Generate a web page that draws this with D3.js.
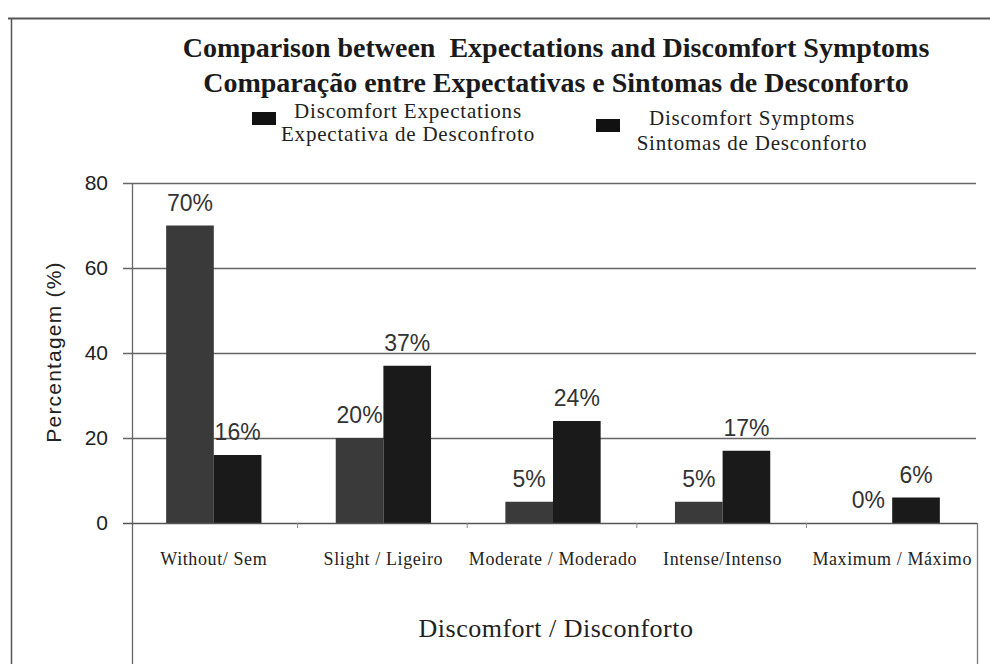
<!DOCTYPE html>
<html>
<head>
<meta charset="utf-8">
<script src="https://cdn.jsdelivr.net/npm/d3@7"></script>
<style>
  html, body { margin: 0; padding: 0; background: #fff; }
  svg { display: block; }
</style>
</head>
<body>
<svg id="chart" width="990" height="664"></svg>
<script>
const categories = ["Without/ Sem", "Slight / Ligeiro", "Moderate / Moderado", "Intense/Intenso", "Maximum / Máximo"];
const expectations = [70, 20, 5, 5, 0];
const symptoms = [16, 37, 24, 17, 6];
const seriesNames = [
  ["Discomfort Expectations", "Expectativa de Desconfroto"],
  ["Discomfort Symptoms", "Sintomas de Desconforto"]
];
const yTicks = [0, 20, 40, 60, 80];
const titleLines = ["Comparison between  Expectations and Discomfort Symptoms",
                    "Comparação entre Expectativas e Sintomas de Desconforto"];
const yTitle = "Percentagem (%)";
const xTitle = "Discomfort / Disconforto";

const svg = d3.select("#chart");
const serif = "'Liberation Serif', 'Times New Roman', serif";
const sans = "'Liberation Sans', Arial, sans-serif";
const colors = ["#3a3a3a", "#1a1a1a"];

// outer frame
svg.append("line").attr("x1", 8).attr("x2", 990).attr("y1", 18.5).attr("y2", 18.5)
  .attr("stroke", "#555").attr("stroke-width", 2);
svg.append("line").attr("x1", 11.5).attr("x2", 11.5).attr("y1", 18).attr("y2", 664)
  .attr("stroke", "#555").attr("stroke-width", 1.5);

const x0 = d3.scaleBand().domain(categories).range([129, 977]).paddingInner(0).paddingOuter(0);
const x1 = d3.scaleBand().domain([0, 1]).range([0, x0.bandwidth()]).paddingInner(0).paddingOuter(0.78);
const y = d3.scaleLinear().domain([0, 80]).range([523, 183]);

// gridlines
svg.append("g").selectAll("line").data(yTicks.filter(d => d > 0)).join("line")
  .attr("x1", 123).attr("x2", 976)
  .attr("y1", d => y(d) + 0.5).attr("y2", d => y(d) + 0.5)
  .attr("stroke", "#666").attr("stroke-width", 1.3);

// y-axis line (extends down to bottom)
svg.append("line").attr("x1", 132.5).attr("x2", 132.5).attr("y1", 183).attr("y2", 664)
  .attr("stroke", "#666").attr("stroke-width", 1.3);
// right line below the axis
svg.append("line").attr("x1", 977.5).attr("x2", 977.5).attr("y1", 523).attr("y2", 664)
  .attr("stroke", "#777").attr("stroke-width", 1.3);

// y tick labels
svg.append("g").selectAll("text").data(yTicks).join("text")
  .attr("x", 108).attr("y", d => y(d) + 7)
  .attr("text-anchor", "end")
  .attr("font-family", sans).attr("font-size", 21).attr("fill", "#222")
  .text(d => d);

// y title
svg.append("text")
  .attr("transform", "translate(61,352) rotate(-90)")
  .attr("text-anchor", "middle")
  .attr("font-family", sans).attr("font-size", 21).attr("letter-spacing", 1.2).attr("fill", "#222")
  .text(yTitle);

// bars
const groups = svg.append("g").selectAll("g").data(categories).join("g")
  .attr("transform", d => `translate(${x0(d)},0)`);
const vals = [expectations, symptoms];
groups.selectAll("rect").data((d, i) => [0, 1].map(s => ({ s, v: vals[s][i] }))).join("rect")
  .attr("x", d => x1(d.s))
  .attr("width", x1.bandwidth())
  .attr("y", d => y(d.v))
  .attr("height", d => y(0) - y(d.v))
  .attr("fill", d => colors[d.s]);

// value labels
groups.selectAll("text").data((d, i) => [0, 1].map(s => ({ s, v: vals[s][i] }))).join("text")
  .attr("x", d => x1(d.s) + x1.bandwidth() / 2)
  .attr("y", d => y(d.v) - 15)
  .attr("text-anchor", "middle")
  .attr("font-family", sans).attr("font-size", 23).attr("fill", "#333")
  .text(d => d.v + "%");

// x axis line
svg.append("line").attr("x1", 123).attr("x2", 977).attr("y1", 523.5).attr("y2", 523.5)
  .attr("stroke", "#555").attr("stroke-width", 1.5);
// x tick marks at category boundaries
svg.append("g").selectAll("line").data(categories.slice(1)).join("line")
  .attr("x1", d => x0(d) - 1).attr("x2", d => x0(d) - 1)
  .attr("y1", 523).attr("y2", 528)
  .attr("stroke", "#888").attr("stroke-width", 1);

// category labels
svg.append("g").selectAll("text").data(categories).join("text")
  .attr("x", d => x0(d) + x0.bandwidth() / 2)
  .attr("y", 565)
  .attr("text-anchor", "middle")
  .attr("font-family", serif).attr("font-size", 18).attr("letter-spacing", 0.6).attr("fill", "#222")
  .text(d => d);

// x title
svg.append("text")
  .attr("x", 556).attr("y", 637)
  .attr("text-anchor", "middle")
  .attr("font-family", serif).attr("font-size", 26).attr("letter-spacing", 0.5).attr("fill", "#222")
  .text(xTitle);

// title
svg.append("g").selectAll("text").data(titleLines).join("text")
  .attr("x", 556).attr("y", (d, i) => 57 + i * 35)
  .attr("text-anchor", "middle")
  .style("white-space", "pre")
  .attr("font-family", serif).attr("font-weight", "bold").attr("font-size", 28).attr("fill", "#1a1a1a")
  .text(d => d);

// legend
const legendX = [[252, 408], [596, 752]];
const legendBaselines = [[118, 141], [125, 150]];
seriesNames.forEach((names, s) => {
  svg.append("rect")
    .attr("x", legendX[s][0]).attr("y", s === 0 ? 112 : 119)
    .attr("width", 24).attr("height", 13)
    .attr("fill", "#111");
  names.forEach((t, j) => {
    svg.append("text")
      .attr("x", legendX[s][1]).attr("y", legendBaselines[s][j])
      .attr("text-anchor", "middle")
      .attr("font-family", serif).attr("font-size", 21).attr("letter-spacing", 0.8).attr("fill", "#222")
      .text(t);
  });
});
</script>
</body>
</html>
